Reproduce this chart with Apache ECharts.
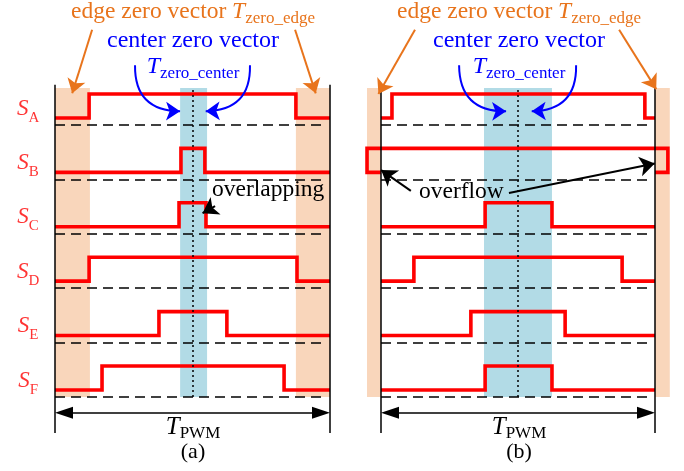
<!DOCTYPE html>
<html>
<head>
<meta charset="utf-8">
<script src="https://cdn.jsdelivr.net/npm/echarts@6/dist/echarts.min.js"></script>
<style>
  html, body { margin: 0; padding: 0; background: #fff; }
  #chart { width: 684px; height: 471px; }
</style>
</head>
<body>
<div id="chart"></div>
<script>
// Switch labels, top to bottom
const phases = ['A', 'B', 'C', 'D', 'E', 'F'];

// Turn-on / turn-off instants inside one PWM period (0 = start, 1 = end)
const riseA = [0.124, 0.458, 0.451, 0.124, 0.378, 0.171];
const fallA = [0.876, 0.545, 0.549, 0.880, 0.625, 0.833];
const riseB = [0.040, -0.051, 0.380, 0.120, 0.328, 0.380];
const fallB = [0.963, 1.047, 0.624, 0.880, 0.672, 0.624];

// Zero-vector windows
const edgeZeroA = [[0, 0.127], [0.876, 1]];
const centerZeroA = [0.455, 0.553];
const edgeZeroB = [[-0.051, 0], [1, 1.054]];
const centerZeroB = [0.376, 0.624];

// Signal levels relative to each row's reference line
const LOW = 0.13, HIGH = 0.57;
const ROWS = phases.length;
const TOP = 5.68;        // top of the shaded windows
const FRAME_TOP = 5.74, FRAME_BOTTOM = -0.66, PERIOD_Y = -0.29;

const SERIF = "'Liberation Serif','Times New Roman',serif";
const RED = '#ff0000', ORANGE = '#e8741c', BLUE = '#0000ff';
const ORANGE_FILL = '#f9d6bb', BLUE_FILL = '#b2dbe6';

const PX = 54.4;                      // pixels per row
const Y_MIN = -0.8, Y_MAX = 5.8;
const PERIOD_PX = [275, 274];         // pixels per PWM period in each panel

const base = i => (ROWS - 1 - i);

function wave(i, r, f) {
  const b = base(i);
  return [[0, b + LOW], [r, b + LOW], [r, b + HIGH], [f, b + HIGH], [f, b + LOW], [1, b + LOW]];
}

// pull the end of an arrow back by half its head so that the tip lands on the target
function tipOn(coords, px, g) {
  const a = coords[0], b = coords[1];
  const dx = (b[0] - a[0]) * PERIOD_PX[g], dy = (b[1] - a[1]) * PX;
  const k = px / Math.hypot(dx, dy);
  return [a, [b[0] - (b[0] - a[0]) * k, b[1] - (b[1] - a[1]) * k]];
}

function panelSeries(g, rise, fall, edges, center, arrows) {
  const out = [];
  // shaded zero-vector windows
  out.push({
    type: 'line', xAxisIndex: g, yAxisIndex: g, data: [], silent: true, z: 1,
    markArea: {
      silent: true,
      data: edges.map(e => [
        { xAxis: e[0], yAxis: 0, itemStyle: { color: ORANGE_FILL } },
        { xAxis: e[1], yAxis: TOP }
      ]).concat([[
        { xAxis: center[0], yAxis: 0, itemStyle: { color: BLUE_FILL } },
        { xAxis: center[1], yAxis: TOP }
      ]])
    }
  });
  // period frame, reference lines and centre marker
  const plain = { symbol: ['none', 'none'], label: { show: false } };
  out.push({
    type: 'line', xAxisIndex: g, yAxisIndex: g, data: [], silent: true, z: 3,
    markLine: Object.assign({}, plain, {
      silent: true,
      lineStyle: { color: '#000', width: 1.5, type: 'solid' },
      data: [
        [{ coord: [0, FRAME_BOTTOM] }, { coord: [0, FRAME_TOP] }],
        [{ coord: [1, FRAME_BOTTOM] }, { coord: [1, FRAME_TOP] }]
      ]
    })
  });
  out.push({
    type: 'line', xAxisIndex: g, yAxisIndex: g, data: [], silent: true, z: 3,
    markLine: Object.assign({}, plain, {
      silent: true,
      lineStyle: { color: '#000', width: 1.5, type: [10, 6] },
      data: phases.map((p, i) => [{ coord: [0, base(i)] }, { coord: [0.98, base(i)] }])
    })
  });
  out.push({
    type: 'line', xAxisIndex: g, yAxisIndex: g, data: [], silent: true, z: 3,
    markLine: Object.assign({}, plain, {
      silent: true,
      lineStyle: { color: '#000', width: 1.5, type: [2, 3] },
      data: [[{ coord: [0.5, 0] }, { coord: [0.5, TOP] }]]
    })
  });
  // T_PWM double arrow, heads touching the frame lines
  const head = 9 / PERIOD_PX[g];
  out.push({
    type: 'line', xAxisIndex: g, yAxisIndex: g, data: [], silent: true, z: 3,
    markLine: {
      silent: true,
      symbol: ['triangle', 'triangle'],
      symbolSize: [12, 18],
      label: { show: false },
      lineStyle: { color: '#000', width: 1.5, type: 'solid' },
      itemStyle: { color: '#000' },
      data: [[{ coord: [head, PERIOD_Y] }, { coord: [1 - head, PERIOD_Y] }]]
    }
  });
  // switching signals
  phases.forEach((p, i) => {
    out.push({
      type: 'line', xAxisIndex: g, yAxisIndex: g, z: 4, clip: false,
      data: wave(i, rise[i], fall[i]),
      symbol: 'none',
      lineStyle: { color: RED, width: 3.6, join: 'miter', cap: 'butt' }
    });
  });
  // annotation arrows
  arrows.forEach(a => {
    out.push({
      type: 'lines', coordinateSystem: 'cartesian2d', xAxisIndex: g, yAxisIndex: g,
      z: 5, silent: true, clip: false,
      symbol: ['none', 'arrow'], symbolSize: a.size,
      lineStyle: { color: a.color, width: 2, opacity: 1, curveness: a.curve || 0 },
      data: [{ coords: tipOn(a.coords, a.curve ? 4 : a.size / 2, g) }]
    });
  });
  return out;
}

const arrowsA = [
  { color: ORANGE, size: 14, coords: [[0.135, 6.75], [0.055, 5.46]] },
  { color: ORANGE, size: 14, coords: [[0.873, 6.75], [0.956, 5.46]] },
  { color: BLUE, size: 14, curve: -0.5, coords: [[0.291, 6.10], [0.465, 5.20]] },
  { color: BLUE, size: 14, curve: 0.5, coords: [[0.709, 6.10], [0.538, 5.20]] },
  { color: '#000', size: 15, coords: [[0.582, 3.51], [0.513, 3.31]] }
];
const arrowsB = [
  { color: ORANGE, size: 14, coords: [[0.124, 6.75], [-0.022, 5.46]] },
  { color: ORANGE, size: 14, coords: [[0.869, 6.75], [1.018, 5.55]] },
  { color: BLUE, size: 14, curve: -0.5, coords: [[0.285, 6.10], [0.467, 5.20]] },
  { color: BLUE, size: 14, curve: 0.5, coords: [[0.712, 6.10], [0.540, 5.20]] },
  { color: '#000', size: 15, coords: [[0.109, 3.79], [-0.022, 4.25]] },
  { color: '#000', size: 15, coords: [[0.467, 3.75], [1.026, 4.32]] }
];

// row labels S_A ... S_F on the left of panel (a)
const labelSeries = {
  type: 'scatter', xAxisIndex: 0, yAxisIndex: 0, z: 6, silent: true,
  symbolSize: 1, itemStyle: { color: 'rgba(0,0,0,0)' },
  data: phases.map((p, i) => ({ value: [-0.098, base(i) + 0.21], name: p })),
  label: {
    show: true, position: 'inside',
    formatter: d => '{s|S}{b|' + d.name + '}',
    rich: {
      s: { fontFamily: SERIF, fontSize: 23, fontStyle: 'italic', color: RED, verticalAlign: 'bottom', lineHeight: 23, padding: [0, 0, 5, 0] },
      b: { fontFamily: SERIF, fontSize: 15, color: RED, verticalAlign: 'bottom', lineHeight: 15 }
    }
  }
};

function rich(color, big, small) {
  return {
    n: { fill: color, fontFamily: SERIF, fontSize: big, verticalAlign: 'bottom', lineHeight: big, padding: [0, 0, 3, 0] },
    t: { fill: color, fontFamily: SERIF, fontSize: big, fontStyle: 'italic', verticalAlign: 'bottom', lineHeight: big, padding: [0, 0, 3, 0] },
    s: { fill: color, fontFamily: SERIF, fontSize: small, verticalAlign: 'bottom', lineHeight: small }
  };
}
function text(x, y, str, color, big, small, align) {
  return {
    type: 'text', x: x, y: y, z: 10, silent: true,
    style: { text: str, rich: rich(color, big, small), fill: color, fontFamily: SERIF, fontSize: big,
             align: align || 'center', verticalAlign: 'middle' }
  };
}

const graphics = [];
[193, 519].forEach((cx, k) => {
  graphics.push(text(cx, 15, '{n|edge zero vector }{t|T}{s|zero_edge}', ORANGE, 23.5, 17));
  graphics.push(text(cx, 44, '{n|center zero vector}', BLUE, 24, 17));
  graphics.push(text(cx, 70, '{t|T}{s|zero_center}', BLUE, 24, 17));
  graphics.push(text(cx, 430, '{t|T}{s|PWM}', '#000', 25, 17));
  graphics.push(text(cx, 455, '{n|' + (k ? '(b)' : '(a)') + '}', '#000', 22, 16));
});
graphics.push(text(212, 193, '{n|overlapping}', '#000', 23.5, 17, 'left'));
graphics.push(text(419, 195, '{n|overflow}', '#000', 23.5, 17, 'left'));

const gridTop = 397 - Y_MAX * PX;
const gridH = (Y_MAX - Y_MIN) * PX;
const axisX = g => ({ type: 'value', gridIndex: g, min: -0.1, max: 1.1, show: false });
const axisY = g => ({ type: 'value', gridIndex: g, min: Y_MIN, max: Y_MAX, show: false });

const chart = echarts.init(document.getElementById('chart'), null, { renderer: 'canvas' });
chart.setOption({
  animation: false,
  backgroundColor: '#fff',
  grid: [
    { left: 55 - 0.1 * PERIOD_PX[0], width: 1.2 * PERIOD_PX[0], top: gridTop, height: gridH },
    { left: 381 - 0.1 * PERIOD_PX[1], width: 1.2 * PERIOD_PX[1], top: gridTop, height: gridH }
  ],
  xAxis: [axisX(0), axisX(1)],
  yAxis: [axisY(0), axisY(1)],
  series: [].concat(
    panelSeries(0, riseA, fallA, edgeZeroA, centerZeroA, arrowsA),
    panelSeries(1, riseB, fallB, edgeZeroB, centerZeroB, arrowsB),
    [labelSeries]
  ),
  graphic: graphics
});
</script>
</body>
</html>
